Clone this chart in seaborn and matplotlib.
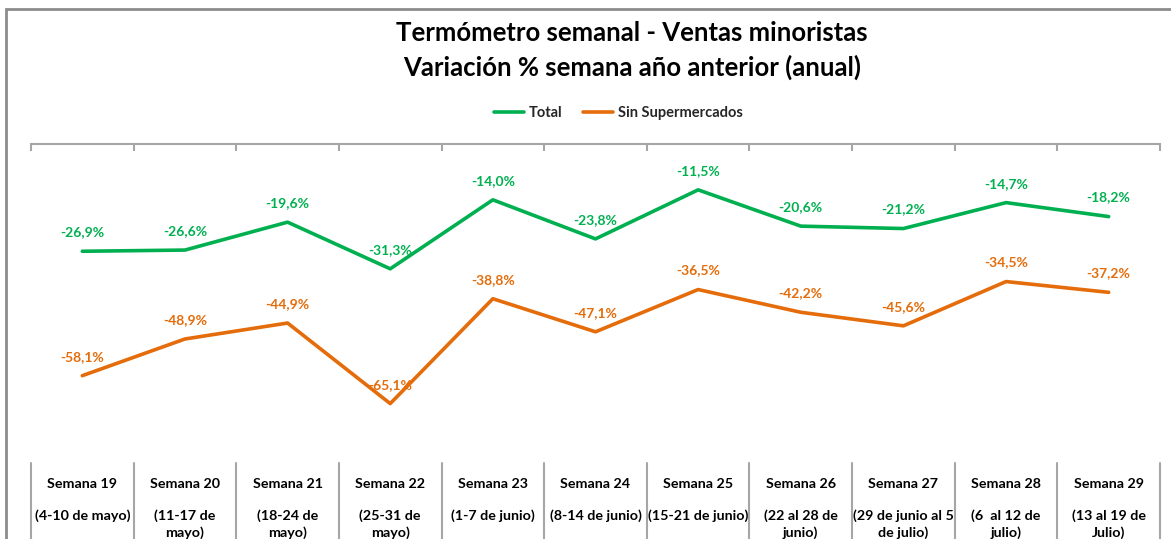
import matplotlib
matplotlib.use("Agg")
import matplotlib.pyplot as plt
import seaborn as sns
import pandas as pd
import numpy as np
from matplotlib.patches import Rectangle
from matplotlib.lines import Line2D

semanas = ["Semana 19", "Semana 20", "Semana 21", "Semana 22", "Semana 23", "Semana 24",
           "Semana 25", "Semana 26", "Semana 27", "Semana 28", "Semana 29"]
fechas = ["(4-10 de mayo)", "(11-17 de\nmayo)", "(18-24 de\nmayo)", "(25-31 de\nmayo)",
          "(1-7 de junio)", "(8-14 de junio)", "(15-21 de junio)", "(22 al 28 de\njunio)",
          "(29 de junio al 5\nde julio)", "(6  al 12 de\njulio)", "(13 al 19 de\nJulio)"]
total = [-26.9, -26.6, -19.6, -31.3, -14.0, -23.8, -11.5, -20.6, -21.2, -14.7, -18.2]
sin_super = [-58.1, -48.9, -44.9, -65.1, -38.8, -47.1, -36.5, -42.2, -45.6, -34.5, -37.2]
series_names = ["Total", "Sin Supermercados"]
colors = ["#00B050", "#E46C0A"]

sns.set_theme(style="white")
plt.rcParams['font.family'] = ['Lato', 'DejaVu Sans']

W, H = 1171, 539
fig = plt.figure(figsize=(W / 100, H / 100), dpi=100)

def fx(px):
    return px / W

def fy(py):
    return 1 - py / H

x0, x1, y0, y1 = 31, 1160, 144, 463
ax = fig.add_axes([fx(x0), fy(y1), fx(x1) - fx(x0), fy(y0) - fy(y1)])

n = len(semanas)
df = pd.DataFrame({
    "idx": list(range(n)) * 2,
    "val": total + sin_super,
    "serie": [series_names[0]] * n + [series_names[1]] * n,
})
sns.lineplot(data=df, x="idx", y="val", hue="serie", palette=colors, linewidth=2.6,
             legend=False, ax=ax, sort=False)

ax.set_xlim(-0.5, n - 0.5)
ax.set_ylim(-80, 0)
for s in ["left", "right", "bottom"]:
    ax.spines[s].set_visible(False)
ax.spines["top"].set_color("#A6A6A6")
ax.spines["top"].set_linewidth(1.5)
ax.xaxis.tick_top()
ax.set_xticks(np.arange(-0.5, n, 1.0))
ax.tick_params(axis="x", direction="in", length=5, width=1.5, color="#A6A6A6",
               labeltop=False, labelbottom=False, top=True, bottom=False)
ax.set_yticks([])
ax.set_xlabel("")
ax.set_ylabel("")

# data labels
for vals, c in zip([total, sin_super], colors):
    for i, v in enumerate(vals):
        lab = f"{v:.1f}".replace(".", ",") + "%"
        ax.annotate(lab, (i, v), xytext=(0, 19), textcoords="offset pixels",
                    ha="center", va="center", color=c, fontsize=10, fontweight="bold")

# category table below
trans = ax.get_xaxis_transform()
for b in np.arange(-0.5, n, 1.0):
    ax.add_line(Line2D([b, b], [0, -0.4], transform=trans, color="#A6A6A6",
                       linewidth=1.5, clip_on=False))
for i in range(n):
    ax.annotate(semanas[i], (i, 0), xycoords=trans, xytext=(0, -(484 - 463)),
                textcoords="offset pixels", ha="center", va="center",
                fontsize=10.3, fontweight="bold", color="#000000")
    ax.annotate(fechas[i], (i, 0), xycoords=trans, xytext=(0, -(509 - 463)),
                textcoords="offset pixels", ha="center", va="top",
                fontsize=10.3, fontweight="bold", color="#000000", linespacing=1.4)

# title
fig.text(fx(632), fy(33), "Termómetro semanal - Ventas minoristas", ha="center", va="center",
         fontsize=18.5, fontweight="bold", color="#000000")
fig.text(fx(632), fy(67), "Variación % semana año anterior (anual)", ha="center", va="center",
         fontsize=18.5, fontweight="bold", color="#000000")

# legend
handles = [Line2D([], [], color=c, linewidth=2.6) for c in colors]
fig.legend(handles, series_names, loc="center", bbox_to_anchor=(fx(618), fy(113)), ncol=2,
           frameon=False, prop={"weight": "bold", "size": 10.5}, handlelength=2.1,
           handletextpad=0.3, columnspacing=1.4)

# outer chart border
fig.add_artist(Rectangle((fx(6), fy(700)), fx(1400), fy(9) - fy(700), transform=fig.transFigure,
                         fill=False, edgecolor="#8C8C8C", linewidth=2.0))

fig.savefig("out.png", dpi=100)
